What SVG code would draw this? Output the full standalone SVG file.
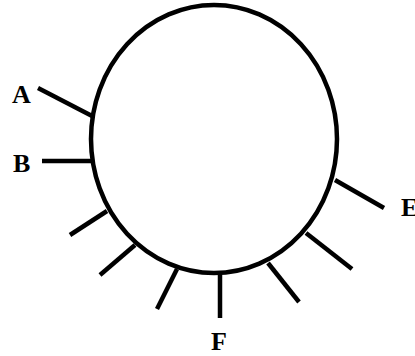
<svg xmlns="http://www.w3.org/2000/svg" width="415" height="356" viewBox="0 0 415 356">
<style>
.o{fill:none;stroke:#000;stroke-width:4.5}
.t{stroke:#000;stroke-width:4.5;stroke-linecap:butt}
.l{font-family:"Liberation Serif",serif;font-weight:bold;font-size:26px;fill:#000}
</style>
<rect width="415" height="356" fill="#fff"/>
<g id="ring"><ellipse class="o" cx="214" cy="139" rx="123" ry="134"/></g>
<g id="connectors">
<line class="t" x1="38" y1="88" x2="94" y2="117"/>
<line class="t" x1="42" y1="161" x2="91" y2="161"/>
<line class="t" x1="70" y1="235" x2="107" y2="211"/>
<line class="t" x1="100" y1="275" x2="135" y2="245"/>
<line class="t" x1="157" y1="309" x2="177" y2="269"/>
<line class="t" x1="220" y1="318" x2="220" y2="273"/>
<line class="t" x1="299" y1="302" x2="268" y2="263"/>
<line class="t" x1="352" y1="269" x2="306" y2="233"/>
<line class="t" x1="384" y1="208" x2="335" y2="180"/>
</g>
<g id="A"><text class="l" x="12" y="103">A</text></g>
<g id="B"><text class="l" x="13" y="172">B</text></g>
<g id="E"><text class="l" x="401" y="216">E</text></g>
<g id="F"><text class="l" x="211" y="350">F</text></g>
</svg>
